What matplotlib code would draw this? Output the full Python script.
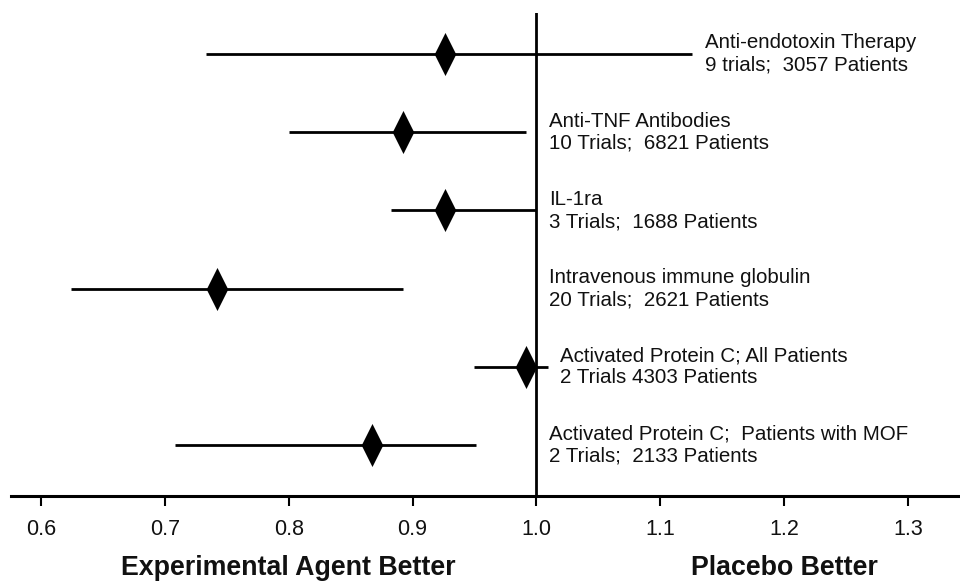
import matplotlib
matplotlib.use("Agg")
import matplotlib.pyplot as plt
from matplotlib.path import Path
from matplotlib.transforms import blended_transform_factory

# ---- data ----
names = [
    "Anti-endotoxin Therapy",
    "Anti-TNF Antibodies",
    "IL-1ra",
    "Intravenous immune globulin",
    "Activated Protein C; All Patients",
    "Activated Protein C;  Patients with MOF",
]
details = [
    "9 trials;  3057 Patients",
    "10 Trials;  6821 Patients",
    "3 Trials;  1688 Patients",
    "20 Trials;  2621 Patients",
    "2 Trials 4303 Patients",
    "2 Trials;  2133 Patients",
]
estimate = [0.926, 0.892, 0.926, 0.742, 0.992, 0.867]
lower = [0.733, 0.800, 0.883, 0.624, 0.950, 0.708]
upper = [1.126, 0.992, 1.000, 0.892, 1.009, 0.951]
tick_values = [0.6, 0.7, 0.8, 0.9, 1.0, 1.1, 1.2, 1.3]
tick_labels = ["0.6", "0.7", "0.8", "0.9", "1.0", "1.1", "1.2", "1.3"]
side_labels = ["Experimental Agent Better", "Placebo Better"]
side_positions = [0.8, 1.2]
null_value = 1.0

plt.rcParams["font.family"] = ["Liberation Sans", "DejaVu Sans"]

W, H = 960, 583
fig = plt.figure(figsize=(W / 100, H / 100), dpi=100)
ax_left, ax_top, ax_bottom = 11, 13, 495.7
ax = fig.add_axes([ax_left / W, (H - ax_bottom) / H, 1 - ax_left / W,
                   (ax_bottom - ax_top) / H])

n = len(names)
rows = list(range(n))

diamond = Path([(0, 1), (0.5, 0), (0, -1), (-0.5, 0), (0, 1)],
               [Path.MOVETO, Path.LINETO, Path.LINETO, Path.LINETO, Path.CLOSEPOLY])

ax.hlines(rows, lower, upper, color="black", lw=2.0)
ax.plot(estimate, rows, linestyle="none", marker=diamond, markersize=31,
        color="black", markeredgewidth=0)
ax.axvline(null_value, color="black", lw=2.0)

for i in rows:
    xpos = max(upper[i], null_value) + 0.01
    ax.text(xpos, i, names[i] + "\n" + details[i], ha="left", va="center",
            fontsize=14.8, linespacing=1.22, color="#111111")

ax.set_xlim(0.5758, 1.342)
ax.set_ylim(5.648, -0.524)
ax.set_xticks(tick_values)
ax.set_xticklabels(tick_labels, fontsize=15.5, color="#111111")
ax.set_yticks([])
for s in ["left", "top", "right"]:
    ax.spines[s].set_visible(False)
ax.spines["bottom"].set_linewidth(2.2)
ax.tick_params(axis="x", direction="out", length=7.5, width=1.5, pad=9)

tr = blended_transform_factory(ax.transData, ax.transAxes)
for lab, xp in zip(side_labels, side_positions):
    ax.text(xp, -0.150, lab, transform=tr, ha="center", va="center",
            fontsize=19.3, fontweight="bold", color="#111111")

fig.savefig("out.png", dpi=100)
